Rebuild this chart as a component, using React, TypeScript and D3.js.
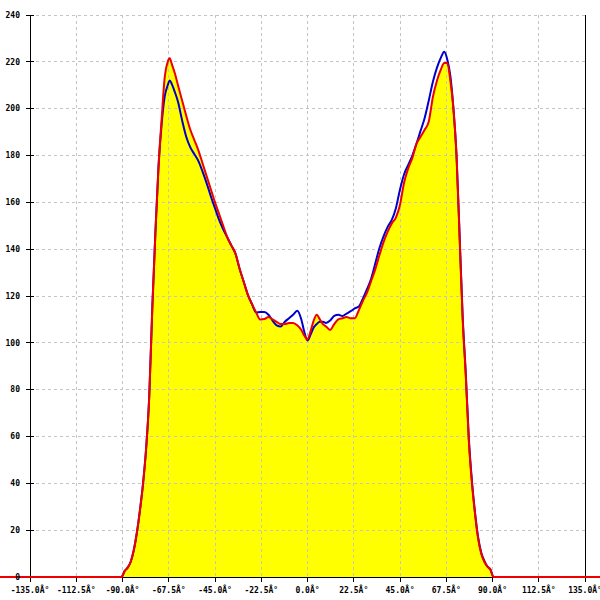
import React from 'react'
import * as d3 from 'd3'

// angle samples (degrees) and the two measured series
const angles = [
  -180, -90.5, -89, -87.5, -86, -84.5, -83, -81.5, -80, -78.5, -77, -75.5, -74, -72.5, -71, -69.5, -68, -67, -66,
  -64.5, -63, -61, -59, -57, -55, -53, -51, -49, -47, -45, -43, -41, -39, -37, -35, -33, -31, -29, -27, -25, -23,
  -21, -19, -17, -15, -13, -11, -9, -7, -5, -3, -1.5, 0, 1.5, 3, 4.5, 6, 7.5, 9, 11, 13, 15, 17, 19, 21, 23, 25,
  27, 29, 31, 33, 35, 37, 39, 41, 43, 45, 47, 49, 51, 53, 55, 57, 59, 61, 63, 65, 66.5, 68, 69.5, 71, 72.5, 74,
  75.5, 77, 78.5, 80, 81.5, 83, 84.5, 86, 87.5, 89, 90.5, 180
]

const redValues = [
  0, 0, 2.5, 4, 6.5, 11.5, 19, 28.6, 40, 55, 77, 115, 147, 175, 195, 213, 220, 221.5, 219,
  215, 210, 203.5, 197, 191, 186.5, 182, 176.5, 171, 165.5, 160, 155, 150, 145, 141.5, 138, 131.5, 126, 120.5, 116.5, 113, 110,
  110.2, 111, 110, 109, 108, 108, 108.5, 108.5, 107.5, 105.5, 103, 101.5, 105, 109.5, 112, 110, 108, 107, 105.5, 108, 110, 110.5, 111, 110.5, 110.5, 114,
  118, 121.5, 126.5, 131.5, 137.5, 143, 147.5, 151, 153.5, 159, 168.5, 174.5, 179, 185, 188, 191, 194.5, 205, 212, 217, 219.5, 219.5, 212, 200, 180, 145,
  110, 86, 58, 40, 27, 16.5, 10, 6.5, 4.5, 3.2, 0, 0
]

const blueValues = [
  0, 0, 2.5, 4, 6.5, 11.5, 19, 28.6, 40, 55, 77, 115, 147, 175, 193, 205, 210, 212, 210.5,
  207, 203, 195, 188, 183.5, 180.5, 177.5, 173, 168, 162.5, 157.5, 152.5, 148.5, 145, 141.5, 138, 131.5, 126, 120.5, 116.5, 113, 113.2,
  113.2, 112, 109.5, 107.5, 107, 109, 110.5, 112, 113.7, 110, 104.5, 101, 103.5, 106.5, 108, 109, 109, 108.5, 109.5, 111.5, 112, 111.5, 112.5, 113.5, 114.7, 115.5,
  119, 123, 127.5, 134, 140.5, 145.5, 149.5, 152.5, 157.5, 165.5, 172, 176, 180, 185, 190.5, 196, 203.5, 211.5, 217.5, 222, 224.3, 221, 214, 200, 180, 146,
  111, 87, 59, 41, 27.5, 17, 10.5, 7, 4.5, 3.2, 0, 0
]

const xTicks = [-135, -112.5, -90, -67.5, -45, -22.5, 0, 22.5, 45, 67.5, 90, 112.5, 135]
const yTicks = [0, 20, 40, 60, 80, 100, 120, 140, 160, 180, 200, 220, 240]

const W = 600
const H = 600
const left = 30
const right = 585
const top = 15
const bottom = 577

export default function App() {
  const x = d3.scaleLinear().domain([-135, 135]).range([left, right])
  const y = d3.scaleLinear().domain([0, 240]).range([bottom, top])

  const pts = angles.map((a, i) => ({ a, r: redValues[i], b: blueValues[i] }))

  const area = d3.area<{ a: number; r: number }>()
    .x(d => x(d.a))
    .y0(y(0))
    .y1(d => y(d.r))
    .curve(d3.curveMonotoneX)

  const redLine = d3.line<{ a: number; r: number }>()
    .x(d => x(d.a))
    .y(d => y(d.r))
    .curve(d3.curveMonotoneX)

  const blueLine = d3.line<{ a: number; b: number }>()
    .x(d => x(d.a))
    .y(d => y(d.b))
    .curve(d3.curveMonotoneX)

  const font = '"DejaVu Sans Mono", monospace'

  return (
    <svg width={W} height={H} style={{ position: 'absolute', left: 0, top: 0, background: '#fff' }}>
      <rect width={W} height={H} fill="#fff" />
      {/* fill under red series */}
      <path d={area(pts) || ''} fill="#ffff00" />

      {/* grid */}
      <g stroke="#c4c4c4" strokeWidth={1} strokeDasharray="3,3" shapeRendering="crispEdges">
        {yTicks.filter(t => t > 0).map(t => (
          <line key={'h' + t} x1={left} x2={right} y1={y(t)} y2={y(t)} />
        ))}
        {xTicks.filter(t => t > -135 && t < 135).map(t => (
          <line key={'v' + t} x1={x(t)} x2={x(t)} y1={top} y2={bottom} />
        ))}
      </g>

      {/* axes */}
      <g stroke="#000" strokeWidth={1} shapeRendering="crispEdges">
        <line x1={left} x2={left} y1={top} y2={bottom} />
        <line x1={right} x2={right} y1={top} y2={bottom} />
        <line x1={left} x2={right} y1={bottom} y2={bottom} />
        {yTicks.map(t => (
          <line key={'yt' + t} x1={left - 4} x2={left + 4} y1={y(t)} y2={y(t)} />
        ))}
        {xTicks.map(t => (
          <line key={'xt' + t} x1={x(t)} x2={x(t)} y1={bottom} y2={bottom + 5} />
        ))}
      </g>

      {/* series */}
      <path d={blueLine(pts) || ''} fill="none" stroke="#0000cc" strokeWidth={2} />
      <path d={redLine(pts) || ''} fill="none" stroke="#ee0000" strokeWidth={2} />

      {/* labels */}
      <g fontFamily={font} fontSize={8} fontWeight="bold" fill="#000">
        {yTicks.map(t => (
          <text key={'yl' + t} x={20} y={y(t)} dy="0.35em" textAnchor="end">{t}</text>
        ))}
        {xTicks.map(t => (
          <text key={'xl' + t} x={x(t)} y={593} textAnchor="middle">{`${t.toFixed(1)}Â°`}</text>
        ))}
      </g>
    </svg>
  )
}
